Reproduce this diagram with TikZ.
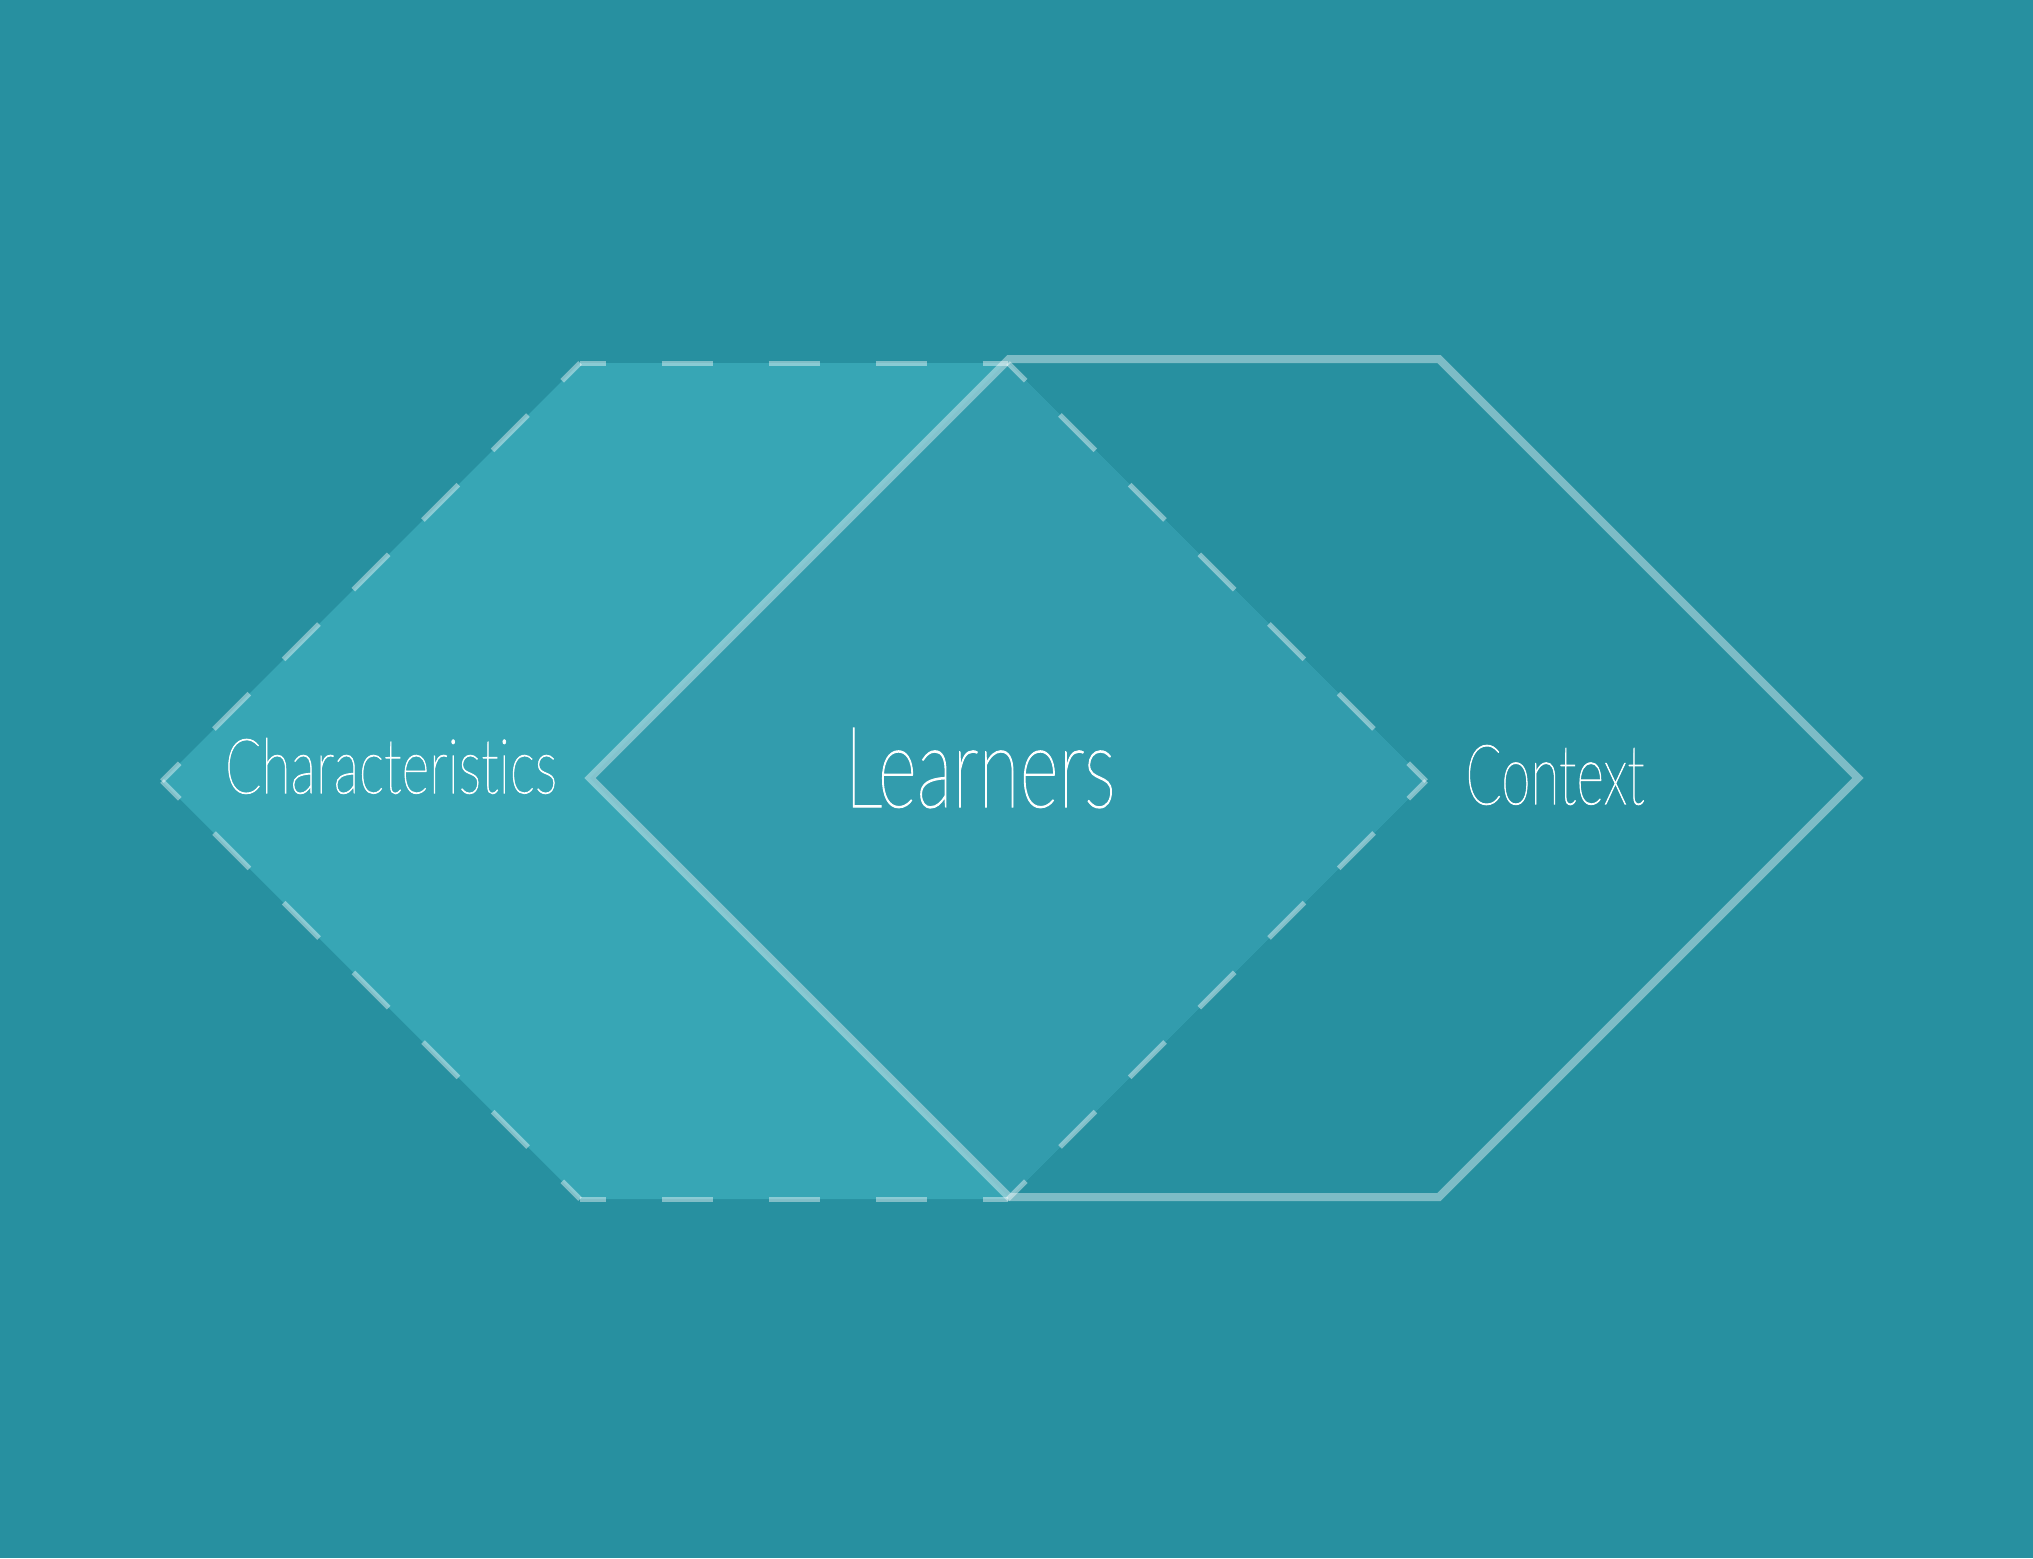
\documentclass[tikz,border=0pt]{standalone}
\usepackage{fontspec}
\usepackage{graphicx}
\IfFontExistsTF{Lato Thin}{\newfontfamily\handfont[Ligatures=NoCommon,FakeBold=1.2]{Lato Thin}}{%
  \IfFontExistsTF{Lato Light}{\newfontfamily\handfont[Ligatures=NoCommon]{Lato Light}}{\newfontfamily\handfont[Ligatures=NoCommon]{Lato}}}
\definecolor{bgc}{HTML}{2790A0}
\definecolor{fillc}{HTML}{37A6B5}
\definecolor{overc}{HTML}{329CAD}
\tikzset{
  dashedge/.style={draw=white, draw opacity=0.42, line width=5pt},
  hdash/.style={dashedge, dash pattern=on 51pt off 56pt, dash phase=25.5pt},
  ddash/.style={dashedge, dash pattern=on 50pt off 48.5pt, dash phase=25pt},
  solidhex/.style={draw=white, draw opacity=0.4, line width=8pt, line join=miter},
  label/.style={inner sep=0pt, text=white, font=\handfont}
}
\begin{document}
\begin{tikzpicture}[x=1pt,y=-1pt]
\fill[bgc] (0,0) rectangle (2033,1558);
\useasboundingbox (0,0) rectangle (2033,1558);
% left hexagon
\coordinate (a1) at (162,781);
\coordinate (a2) at (580,363);
\coordinate (a3) at (1008,363);
\coordinate (a4) at (1426,781);
\coordinate (a5) at (1008,1199);
\coordinate (a6) at (580,1199);
% right hexagon
\coordinate (b1) at (590,778);
\coordinate (b2) at (1009,359);
\coordinate (b3) at (1439,359);
\coordinate (b4) at (1858,778);
\coordinate (b5) at (1439,1197);
\coordinate (b6) at (1009,1197);
\fill[fillc] (a1)--(a2)--(a3)--(a4)--(a5)--(a6)--cycle;
\begin{scope}
  \clip (a1)--(a2)--(a3)--(a4)--(a5)--(a6)--cycle;
  \fill[overc] (b1)--(b2)--(b3)--(b4)--(b5)--(b6)--cycle;
\end{scope}
% dashed outline of left hexagon
\draw[ddash] (a1)--(a2);
\draw[hdash] (a2)--(a3);
\draw[ddash] (a3)--(a4);
\draw[ddash] (a4)--(a5);
\draw[hdash] (a5)--(a6);
\draw[ddash] (a6)--(a1);
% solid outline of right hexagon
\draw[solidhex] (b1)--(b2)--(b3)--(b4)--(b5)--(b6)--cycle;
% labels
\node[label] (chars) at (391,766) {\resizebox{332pt}{55pt}{Characteristics}};
\node[label] (learners) at (980,768) {\resizebox{271pt}{79pt}{Learners}};
\node[label] (context) at (1555,775) {\resizebox{179pt}{59pt}{Context}};
\end{tikzpicture}
\end{document}
